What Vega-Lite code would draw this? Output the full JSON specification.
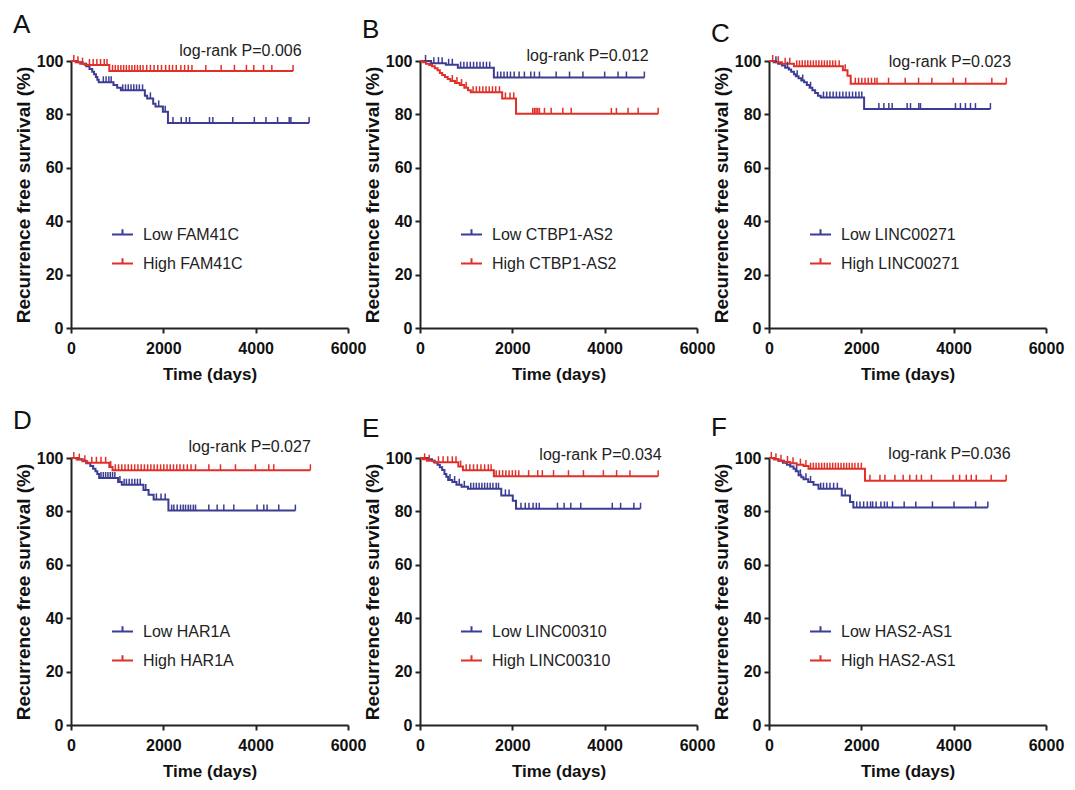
{
"$schema":"https://vega.github.io/schema/vega-lite/v6.json",
"padding":{"left":13,"top":12,"right":5,"bottom":5},
"config":{
"view":{"stroke":null},
"font":"Liberation Sans",
"axis":{"grid":false,"domainColor":"#222","domainWidth":2,"tickColor":"#222","tickWidth":2,"tickSize":5,"labelFont":"Liberation Sans","labelFontSize":16,"labelFontWeight":"bold","labelColor":"#111","titleColor":"#111","titleFontWeight":"bold"},
"axisX":{"labelPadding":7,"titlePadding":10,"titleFont":"Liberation Sans","titleFontSize":17,"labelFlush":false},
"axisY":{"labelPadding":3,"titlePadding":3,"titleFont":"Liberation Sans","titleFontSize":19},
"legend":{"orient":"none","legendX":40,"legendY":162,"title":null,"symbolType":"M-1,0L1,0M0,0L0,-0.5","symbolSize":441,"symbolStrokeWidth":2,"symbolFillColor":"transparent","labelFont":"Liberation Sans","labelFontSize":16,"labelColor":"#222","labelOffset":9,"rowPadding":9},
"title":{"anchor":"start","frame":"group","dx":-58,"offset":5,"fontSize":26,"fontWeight":"normal","font":"Liberation Sans","color":"#111"},
"line":{"interpolate":"step-after","strokeWidth":2},
"point":{"shape":"M0,0L0,-1","size":144,"filled":false,"strokeWidth":1.5,"opacity":1},
"text":{"font":"Liberation Sans","fontSize":16,"color":"#222"}
},
"datasets":{"km":[
{"p":"A","g":"Low FAM41C","t":0,"s":100,"c":0},{"p":"A","g":"Low FAM41C","t":150,"s":99.5,"c":0},{"p":"A","g":"Low FAM41C","t":250,"s":99,"c":0},{"p":"A","g":"Low FAM41C","t":330,"s":98,"c":0},{"p":"A","g":"Low FAM41C","t":400,"s":97,"c":0},{"p":"A","g":"Low FAM41C","t":460,"s":96,"c":0},{"p":"A","g":"Low FAM41C","t":500,"s":95,"c":0},{"p":"A","g":"Low FAM41C","t":540,"s":94,"c":0},{"p":"A","g":"Low FAM41C","t":570,"s":93,"c":0},{"p":"A","g":"Low FAM41C","t":600,"s":92,"c":0},{"p":"A","g":"Low FAM41C","t":920,"s":91,"c":0},{"p":"A","g":"Low FAM41C","t":1000,"s":90,"c":0},{"p":"A","g":"Low FAM41C","t":1080,"s":89,"c":0},{"p":"A","g":"Low FAM41C","t":1600,"s":87,"c":0},{"p":"A","g":"Low FAM41C","t":1650,"s":86,"c":0},{"p":"A","g":"Low FAM41C","t":1780,"s":84,"c":0},{"p":"A","g":"Low FAM41C","t":1830,"s":83,"c":0},{"p":"A","g":"Low FAM41C","t":1990,"s":81,"c":0},{"p":"A","g":"Low FAM41C","t":2100,"s":76.8,"c":0},
{"p":"A","g":"Low FAM41C","t":700,"s":92,"c":1},{"p":"A","g":"Low FAM41C","t":760,"s":92,"c":1},{"p":"A","g":"Low FAM41C","t":820,"s":92,"c":1},{"p":"A","g":"Low FAM41C","t":870,"s":92,"c":1},{"p":"A","g":"Low FAM41C","t":1120,"s":89,"c":1},{"p":"A","g":"Low FAM41C","t":1180,"s":89,"c":1},{"p":"A","g":"Low FAM41C","t":1240,"s":89,"c":1},{"p":"A","g":"Low FAM41C","t":1300,"s":89,"c":1},{"p":"A","g":"Low FAM41C","t":1360,"s":89,"c":1},{"p":"A","g":"Low FAM41C","t":1420,"s":89,"c":1},{"p":"A","g":"Low FAM41C","t":1480,"s":89,"c":1},{"p":"A","g":"Low FAM41C","t":1550,"s":89,"c":1},{"p":"A","g":"Low FAM41C","t":1720,"s":86,"c":1},{"p":"A","g":"Low FAM41C","t":1900,"s":83,"c":1},{"p":"A","g":"Low FAM41C","t":2040,"s":81,"c":1},{"p":"A","g":"Low FAM41C","t":2209,"s":76.8,"c":1},{"p":"A","g":"Low FAM41C","t":2388,"s":76.8,"c":1},{"p":"A","g":"Low FAM41C","t":2496,"s":76.8,"c":1},{"p":"A","g":"Low FAM41C","t":2568,"s":76.8,"c":1},{"p":"A","g":"Low FAM41C","t":3000,"s":76.8,"c":1},{"p":"A","g":"Low FAM41C","t":3072,"s":76.8,"c":1},{"p":"A","g":"Low FAM41C","t":3504,"s":76.8,"c":1},{"p":"A","g":"Low FAM41C","t":3971,"s":76.8,"c":1},{"p":"A","g":"Low FAM41C","t":4223,"s":76.8,"c":1},{"p":"A","g":"Low FAM41C","t":4475,"s":76.8,"c":1},{"p":"A","g":"Low FAM41C","t":4727,"s":76.8,"c":1},{"p":"A","g":"Low FAM41C","t":4763,"s":76.8,"c":1},{"p":"A","g":"Low FAM41C","t":5158,"s":76.8,"c":1},
{"p":"A","g":"High FAM41C","t":0,"s":100,"c":0},{"p":"A","g":"High FAM41C","t":100,"s":99.5,"c":0},{"p":"A","g":"High FAM41C","t":200,"s":99,"c":0},{"p":"A","g":"High FAM41C","t":300,"s":98.5,"c":0},{"p":"A","g":"High FAM41C","t":830,"s":96.3,"c":0},
{"p":"A","g":"High FAM41C","t":60,"s":100,"c":1},{"p":"A","g":"High FAM41C","t":150,"s":99.5,"c":1},{"p":"A","g":"High FAM41C","t":250,"s":99,"c":1},{"p":"A","g":"High FAM41C","t":400,"s":98.5,"c":1},{"p":"A","g":"High FAM41C","t":480,"s":98.5,"c":1},{"p":"A","g":"High FAM41C","t":560,"s":98.5,"c":1},{"p":"A","g":"High FAM41C","t":640,"s":98.5,"c":1},{"p":"A","g":"High FAM41C","t":720,"s":98.5,"c":1},{"p":"A","g":"High FAM41C","t":780,"s":98.5,"c":1},{"p":"A","g":"High FAM41C","t":900,"s":96.3,"c":1},{"p":"A","g":"High FAM41C","t":960,"s":96.3,"c":1},{"p":"A","g":"High FAM41C","t":1020,"s":96.3,"c":1},{"p":"A","g":"High FAM41C","t":1080,"s":96.3,"c":1},{"p":"A","g":"High FAM41C","t":1140,"s":96.3,"c":1},{"p":"A","g":"High FAM41C","t":1200,"s":96.3,"c":1},{"p":"A","g":"High FAM41C","t":1260,"s":96.3,"c":1},{"p":"A","g":"High FAM41C","t":1320,"s":96.3,"c":1},{"p":"A","g":"High FAM41C","t":1380,"s":96.3,"c":1},{"p":"A","g":"High FAM41C","t":1440,"s":96.3,"c":1},{"p":"A","g":"High FAM41C","t":1500,"s":96.3,"c":1},{"p":"A","g":"High FAM41C","t":1560,"s":96.3,"c":1},{"p":"A","g":"High FAM41C","t":1640,"s":96.3,"c":1},{"p":"A","g":"High FAM41C","t":1720,"s":96.3,"c":1},{"p":"A","g":"High FAM41C","t":1800,"s":96.3,"c":1},{"p":"A","g":"High FAM41C","t":1880,"s":96.3,"c":1},{"p":"A","g":"High FAM41C","t":1960,"s":96.3,"c":1},{"p":"A","g":"High FAM41C","t":2050,"s":96.3,"c":1},{"p":"A","g":"High FAM41C","t":2130,"s":96.3,"c":1},{"p":"A","g":"High FAM41C","t":2200,"s":96.3,"c":1},{"p":"A","g":"High FAM41C","t":2280,"s":96.3,"c":1},{"p":"A","g":"High FAM41C","t":2380,"s":96.3,"c":1},{"p":"A","g":"High FAM41C","t":2461,"s":96.3,"c":1},{"p":"A","g":"High FAM41C","t":2540,"s":96.3,"c":1},{"p":"A","g":"High FAM41C","t":2620,"s":96.3,"c":1},{"p":"A","g":"High FAM41C","t":2920,"s":96.3,"c":1},{"p":"A","g":"High FAM41C","t":3252,"s":96.3,"c":1},{"p":"A","g":"High FAM41C","t":3540,"s":96.3,"c":1},{"p":"A","g":"High FAM41C","t":3800,"s":96.3,"c":1},{"p":"A","g":"High FAM41C","t":3960,"s":96.3,"c":1},{"p":"A","g":"High FAM41C","t":4170,"s":96.3,"c":1},{"p":"A","g":"High FAM41C","t":4350,"s":96.3,"c":1},{"p":"A","g":"High FAM41C","t":4810,"s":96.3,"c":1},
{"p":"B","g":"Low CTBP1-AS2","t":0,"s":100,"c":0},{"p":"B","g":"Low CTBP1-AS2","t":240,"s":99.2,"c":0},{"p":"B","g":"Low CTBP1-AS2","t":560,"s":98.6,"c":0},{"p":"B","g":"Low CTBP1-AS2","t":820,"s":97.5,"c":0},{"p":"B","g":"Low CTBP1-AS2","t":1600,"s":93.8,"c":0},
{"p":"B","g":"Low CTBP1-AS2","t":120,"s":100,"c":1},{"p":"B","g":"Low CTBP1-AS2","t":300,"s":99.2,"c":1},{"p":"B","g":"Low CTBP1-AS2","t":400,"s":99.2,"c":1},{"p":"B","g":"Low CTBP1-AS2","t":480,"s":99.2,"c":1},{"p":"B","g":"Low CTBP1-AS2","t":620,"s":98.6,"c":1},{"p":"B","g":"Low CTBP1-AS2","t":700,"s":98.6,"c":1},{"p":"B","g":"Low CTBP1-AS2","t":880,"s":97.5,"c":1},{"p":"B","g":"Low CTBP1-AS2","t":950,"s":97.5,"c":1},{"p":"B","g":"Low CTBP1-AS2","t":1020,"s":97.5,"c":1},{"p":"B","g":"Low CTBP1-AS2","t":1090,"s":97.5,"c":1},{"p":"B","g":"Low CTBP1-AS2","t":1160,"s":97.5,"c":1},{"p":"B","g":"Low CTBP1-AS2","t":1230,"s":97.5,"c":1},{"p":"B","g":"Low CTBP1-AS2","t":1300,"s":97.5,"c":1},{"p":"B","g":"Low CTBP1-AS2","t":1370,"s":97.5,"c":1},{"p":"B","g":"Low CTBP1-AS2","t":1440,"s":97.5,"c":1},{"p":"B","g":"Low CTBP1-AS2","t":1510,"s":97.5,"c":1},{"p":"B","g":"Low CTBP1-AS2","t":1680,"s":93.8,"c":1},{"p":"B","g":"Low CTBP1-AS2","t":1750,"s":93.8,"c":1},{"p":"B","g":"Low CTBP1-AS2","t":1820,"s":93.8,"c":1},{"p":"B","g":"Low CTBP1-AS2","t":1890,"s":93.8,"c":1},{"p":"B","g":"Low CTBP1-AS2","t":1960,"s":93.8,"c":1},{"p":"B","g":"Low CTBP1-AS2","t":2040,"s":93.8,"c":1},{"p":"B","g":"Low CTBP1-AS2","t":2147,"s":93.8,"c":1},{"p":"B","g":"Low CTBP1-AS2","t":2261,"s":93.8,"c":1},{"p":"B","g":"Low CTBP1-AS2","t":2400,"s":93.8,"c":1},{"p":"B","g":"Low CTBP1-AS2","t":2478,"s":93.8,"c":1},{"p":"B","g":"Low CTBP1-AS2","t":2587,"s":93.8,"c":1},{"p":"B","g":"Low CTBP1-AS2","t":2949,"s":93.8,"c":1},{"p":"B","g":"Low CTBP1-AS2","t":3239,"s":93.8,"c":1},{"p":"B","g":"Low CTBP1-AS2","t":3529,"s":93.8,"c":1},{"p":"B","g":"Low CTBP1-AS2","t":4000,"s":93.8,"c":1},{"p":"B","g":"Low CTBP1-AS2","t":4290,"s":93.8,"c":1},{"p":"B","g":"Low CTBP1-AS2","t":4471,"s":93.8,"c":1},{"p":"B","g":"Low CTBP1-AS2","t":4860,"s":93.8,"c":1},
{"p":"B","g":"High CTBP1-AS2","t":0,"s":100,"c":0},{"p":"B","g":"High CTBP1-AS2","t":60,"s":99.5,"c":0},{"p":"B","g":"High CTBP1-AS2","t":130,"s":99,"c":0},{"p":"B","g":"High CTBP1-AS2","t":200,"s":98.5,"c":0},{"p":"B","g":"High CTBP1-AS2","t":260,"s":98,"c":0},{"p":"B","g":"High CTBP1-AS2","t":320,"s":97.3,"c":0},{"p":"B","g":"High CTBP1-AS2","t":380,"s":96.5,"c":0},{"p":"B","g":"High CTBP1-AS2","t":430,"s":95.5,"c":0},{"p":"B","g":"High CTBP1-AS2","t":480,"s":94.8,"c":0},{"p":"B","g":"High CTBP1-AS2","t":540,"s":94,"c":0},{"p":"B","g":"High CTBP1-AS2","t":600,"s":93.3,"c":0},{"p":"B","g":"High CTBP1-AS2","t":660,"s":92.5,"c":0},{"p":"B","g":"High CTBP1-AS2","t":760,"s":91.8,"c":0},{"p":"B","g":"High CTBP1-AS2","t":860,"s":91,"c":0},{"p":"B","g":"High CTBP1-AS2","t":960,"s":90,"c":0},{"p":"B","g":"High CTBP1-AS2","t":1040,"s":89,"c":0},{"p":"B","g":"High CTBP1-AS2","t":1100,"s":88.3,"c":0},{"p":"B","g":"High CTBP1-AS2","t":1780,"s":86,"c":0},{"p":"B","g":"High CTBP1-AS2","t":2080,"s":80.2,"c":0},
{"p":"B","g":"High CTBP1-AS2","t":700,"s":92.5,"c":1},{"p":"B","g":"High CTBP1-AS2","t":800,"s":91.8,"c":1},{"p":"B","g":"High CTBP1-AS2","t":900,"s":91,"c":1},{"p":"B","g":"High CTBP1-AS2","t":1000,"s":90,"c":1},{"p":"B","g":"High CTBP1-AS2","t":1150,"s":88.3,"c":1},{"p":"B","g":"High CTBP1-AS2","t":1220,"s":88.3,"c":1},{"p":"B","g":"High CTBP1-AS2","t":1290,"s":88.3,"c":1},{"p":"B","g":"High CTBP1-AS2","t":1360,"s":88.3,"c":1},{"p":"B","g":"High CTBP1-AS2","t":1430,"s":88.3,"c":1},{"p":"B","g":"High CTBP1-AS2","t":1500,"s":88.3,"c":1},{"p":"B","g":"High CTBP1-AS2","t":1570,"s":88.3,"c":1},{"p":"B","g":"High CTBP1-AS2","t":1640,"s":88.3,"c":1},{"p":"B","g":"High CTBP1-AS2","t":1720,"s":88.3,"c":1},{"p":"B","g":"High CTBP1-AS2","t":1850,"s":86,"c":1},{"p":"B","g":"High CTBP1-AS2","t":1950,"s":86,"c":1},{"p":"B","g":"High CTBP1-AS2","t":2030,"s":86,"c":1},{"p":"B","g":"High CTBP1-AS2","t":2442,"s":80.2,"c":1},{"p":"B","g":"High CTBP1-AS2","t":2480,"s":80.2,"c":1},{"p":"B","g":"High CTBP1-AS2","t":2514,"s":80.2,"c":1},{"p":"B","g":"High CTBP1-AS2","t":2550,"s":80.2,"c":1},{"p":"B","g":"High CTBP1-AS2","t":2587,"s":80.2,"c":1},{"p":"B","g":"High CTBP1-AS2","t":2696,"s":80.2,"c":1},{"p":"B","g":"High CTBP1-AS2","t":2841,"s":80.2,"c":1},{"p":"B","g":"High CTBP1-AS2","t":3094,"s":80.2,"c":1},{"p":"B","g":"High CTBP1-AS2","t":3275,"s":80.2,"c":1},{"p":"B","g":"High CTBP1-AS2","t":4145,"s":80.2,"c":1},{"p":"B","g":"High CTBP1-AS2","t":4254,"s":80.2,"c":1},{"p":"B","g":"High CTBP1-AS2","t":4507,"s":80.2,"c":1},{"p":"B","g":"High CTBP1-AS2","t":4725,"s":80.2,"c":1},{"p":"B","g":"High CTBP1-AS2","t":5159,"s":80.2,"c":1},
{"p":"C","g":"Low LINC00271","t":0,"s":100,"c":0},{"p":"C","g":"Low LINC00271","t":100,"s":99.5,"c":0},{"p":"C","g":"Low LINC00271","t":200,"s":99,"c":0},{"p":"C","g":"Low LINC00271","t":280,"s":98.3,"c":0},{"p":"C","g":"Low LINC00271","t":350,"s":97.5,"c":0},{"p":"C","g":"Low LINC00271","t":430,"s":96.8,"c":0},{"p":"C","g":"Low LINC00271","t":480,"s":96,"c":0},{"p":"C","g":"Low LINC00271","t":540,"s":95,"c":0},{"p":"C","g":"Low LINC00271","t":580,"s":94.3,"c":0},{"p":"C","g":"Low LINC00271","t":640,"s":93.5,"c":0},{"p":"C","g":"Low LINC00271","t":700,"s":92.7,"c":0},{"p":"C","g":"Low LINC00271","t":760,"s":92,"c":0},{"p":"C","g":"Low LINC00271","t":820,"s":91,"c":0},{"p":"C","g":"Low LINC00271","t":880,"s":90,"c":0},{"p":"C","g":"Low LINC00271","t":940,"s":89,"c":0},{"p":"C","g":"Low LINC00271","t":1000,"s":88,"c":0},{"p":"C","g":"Low LINC00271","t":1060,"s":87,"c":0},{"p":"C","g":"Low LINC00271","t":1120,"s":86.3,"c":0},{"p":"C","g":"Low LINC00271","t":2060,"s":82,"c":0},
{"p":"C","g":"Low LINC00271","t":150,"s":99.5,"c":1},{"p":"C","g":"Low LINC00271","t":400,"s":97.5,"c":1},{"p":"C","g":"Low LINC00271","t":610,"s":94.3,"c":1},{"p":"C","g":"Low LINC00271","t":730,"s":92.7,"c":1},{"p":"C","g":"Low LINC00271","t":900,"s":90,"c":1},{"p":"C","g":"Low LINC00271","t":1180,"s":86.3,"c":1},{"p":"C","g":"Low LINC00271","t":1250,"s":86.3,"c":1},{"p":"C","g":"Low LINC00271","t":1320,"s":86.3,"c":1},{"p":"C","g":"Low LINC00271","t":1390,"s":86.3,"c":1},{"p":"C","g":"Low LINC00271","t":1460,"s":86.3,"c":1},{"p":"C","g":"Low LINC00271","t":1530,"s":86.3,"c":1},{"p":"C","g":"Low LINC00271","t":1600,"s":86.3,"c":1},{"p":"C","g":"Low LINC00271","t":1670,"s":86.3,"c":1},{"p":"C","g":"Low LINC00271","t":1740,"s":86.3,"c":1},{"p":"C","g":"Low LINC00271","t":1810,"s":86.3,"c":1},{"p":"C","g":"Low LINC00271","t":1880,"s":86.3,"c":1},{"p":"C","g":"Low LINC00271","t":1950,"s":86.3,"c":1},{"p":"C","g":"Low LINC00271","t":2010,"s":86.3,"c":1},{"p":"C","g":"Low LINC00271","t":2380,"s":82,"c":1},{"p":"C","g":"Low LINC00271","t":2488,"s":82,"c":1},{"p":"C","g":"Low LINC00271","t":2596,"s":82,"c":1},{"p":"C","g":"Low LINC00271","t":2668,"s":82,"c":1},{"p":"C","g":"Low LINC00271","t":2993,"s":82,"c":1},{"p":"C","g":"Low LINC00271","t":3065,"s":82,"c":1},{"p":"C","g":"Low LINC00271","t":3245,"s":82,"c":1},{"p":"C","g":"Low LINC00271","t":3281,"s":82,"c":1},{"p":"C","g":"Low LINC00271","t":4039,"s":82,"c":1},{"p":"C","g":"Low LINC00271","t":4147,"s":82,"c":1},{"p":"C","g":"Low LINC00271","t":4255,"s":82,"c":1},{"p":"C","g":"Low LINC00271","t":4364,"s":82,"c":1},{"p":"C","g":"Low LINC00271","t":4472,"s":82,"c":1},{"p":"C","g":"Low LINC00271","t":4796,"s":82,"c":1},
{"p":"C","g":"High LINC00271","t":0,"s":100,"c":0},{"p":"C","g":"High LINC00271","t":150,"s":99.5,"c":0},{"p":"C","g":"High LINC00271","t":280,"s":99,"c":0},{"p":"C","g":"High LINC00271","t":540,"s":98,"c":0},{"p":"C","g":"High LINC00271","t":1600,"s":96.5,"c":0},{"p":"C","g":"High LINC00271","t":1700,"s":94.5,"c":0},{"p":"C","g":"High LINC00271","t":1770,"s":91.5,"c":0},
{"p":"C","g":"High LINC00271","t":80,"s":100,"c":1},{"p":"C","g":"High LINC00271","t":200,"s":99.5,"c":1},{"p":"C","g":"High LINC00271","t":350,"s":99,"c":1},{"p":"C","g":"High LINC00271","t":450,"s":99,"c":1},{"p":"C","g":"High LINC00271","t":600,"s":98,"c":1},{"p":"C","g":"High LINC00271","t":660,"s":98,"c":1},{"p":"C","g":"High LINC00271","t":720,"s":98,"c":1},{"p":"C","g":"High LINC00271","t":780,"s":98,"c":1},{"p":"C","g":"High LINC00271","t":840,"s":98,"c":1},{"p":"C","g":"High LINC00271","t":900,"s":98,"c":1},{"p":"C","g":"High LINC00271","t":960,"s":98,"c":1},{"p":"C","g":"High LINC00271","t":1020,"s":98,"c":1},{"p":"C","g":"High LINC00271","t":1080,"s":98,"c":1},{"p":"C","g":"High LINC00271","t":1140,"s":98,"c":1},{"p":"C","g":"High LINC00271","t":1200,"s":98,"c":1},{"p":"C","g":"High LINC00271","t":1260,"s":98,"c":1},{"p":"C","g":"High LINC00271","t":1320,"s":98,"c":1},{"p":"C","g":"High LINC00271","t":1380,"s":98,"c":1},{"p":"C","g":"High LINC00271","t":1440,"s":98,"c":1},{"p":"C","g":"High LINC00271","t":1520,"s":98,"c":1},{"p":"C","g":"High LINC00271","t":1650,"s":96.5,"c":1},{"p":"C","g":"High LINC00271","t":1870,"s":91.5,"c":1},{"p":"C","g":"High LINC00271","t":1940,"s":91.5,"c":1},{"p":"C","g":"High LINC00271","t":2010,"s":91.5,"c":1},{"p":"C","g":"High LINC00271","t":2080,"s":91.5,"c":1},{"p":"C","g":"High LINC00271","t":2150,"s":91.5,"c":1},{"p":"C","g":"High LINC00271","t":2220,"s":91.5,"c":1},{"p":"C","g":"High LINC00271","t":2290,"s":91.5,"c":1},{"p":"C","g":"High LINC00271","t":2340,"s":91.5,"c":1},{"p":"C","g":"High LINC00271","t":2590,"s":91.5,"c":1},{"p":"C","g":"High LINC00271","t":2950,"s":91.5,"c":1},{"p":"C","g":"High LINC00271","t":3240,"s":91.5,"c":1},{"p":"C","g":"High LINC00271","t":3528,"s":91.5,"c":1},{"p":"C","g":"High LINC00271","t":3990,"s":91.5,"c":1},{"p":"C","g":"High LINC00271","t":4260,"s":91.5,"c":1},{"p":"C","g":"High LINC00271","t":4827,"s":91.5,"c":1},{"p":"C","g":"High LINC00271","t":5140,"s":91.5,"c":1},
{"p":"D","g":"Low HAR1A","t":0,"s":100,"c":0},{"p":"D","g":"Low HAR1A","t":150,"s":99.5,"c":0},{"p":"D","g":"Low HAR1A","t":250,"s":99,"c":0},{"p":"D","g":"Low HAR1A","t":330,"s":98,"c":0},{"p":"D","g":"Low HAR1A","t":420,"s":97,"c":0},{"p":"D","g":"Low HAR1A","t":480,"s":96,"c":0},{"p":"D","g":"Low HAR1A","t":530,"s":95,"c":0},{"p":"D","g":"Low HAR1A","t":570,"s":94,"c":0},{"p":"D","g":"Low HAR1A","t":610,"s":92.5,"c":0},{"p":"D","g":"Low HAR1A","t":1020,"s":91,"c":0},{"p":"D","g":"Low HAR1A","t":1100,"s":90,"c":0},{"p":"D","g":"Low HAR1A","t":1570,"s":88,"c":0},{"p":"D","g":"Low HAR1A","t":1680,"s":86.2,"c":0},{"p":"D","g":"Low HAR1A","t":1790,"s":84.5,"c":0},{"p":"D","g":"Low HAR1A","t":2110,"s":80.3,"c":0},
{"p":"D","g":"Low HAR1A","t":650,"s":92.5,"c":1},{"p":"D","g":"Low HAR1A","t":700,"s":92.5,"c":1},{"p":"D","g":"Low HAR1A","t":750,"s":92.5,"c":1},{"p":"D","g":"Low HAR1A","t":800,"s":92.5,"c":1},{"p":"D","g":"Low HAR1A","t":850,"s":92.5,"c":1},{"p":"D","g":"Low HAR1A","t":900,"s":92.5,"c":1},{"p":"D","g":"Low HAR1A","t":950,"s":92.5,"c":1},{"p":"D","g":"Low HAR1A","t":1060,"s":91,"c":1},{"p":"D","g":"Low HAR1A","t":1150,"s":90,"c":1},{"p":"D","g":"Low HAR1A","t":1200,"s":90,"c":1},{"p":"D","g":"Low HAR1A","t":1260,"s":90,"c":1},{"p":"D","g":"Low HAR1A","t":1320,"s":90,"c":1},{"p":"D","g":"Low HAR1A","t":1380,"s":90,"c":1},{"p":"D","g":"Low HAR1A","t":1440,"s":90,"c":1},{"p":"D","g":"Low HAR1A","t":1500,"s":90,"c":1},{"p":"D","g":"Low HAR1A","t":1620,"s":88,"c":1},{"p":"D","g":"Low HAR1A","t":1850,"s":84.5,"c":1},{"p":"D","g":"Low HAR1A","t":1950,"s":84.5,"c":1},{"p":"D","g":"Low HAR1A","t":2040,"s":84.5,"c":1},{"p":"D","g":"Low HAR1A","t":2180,"s":80.3,"c":1},{"p":"D","g":"Low HAR1A","t":2228,"s":80.3,"c":1},{"p":"D","g":"Low HAR1A","t":2300,"s":80.3,"c":1},{"p":"D","g":"Low HAR1A","t":2372,"s":80.3,"c":1},{"p":"D","g":"Low HAR1A","t":2430,"s":80.3,"c":1},{"p":"D","g":"Low HAR1A","t":2481,"s":80.3,"c":1},{"p":"D","g":"Low HAR1A","t":2540,"s":80.3,"c":1},{"p":"D","g":"Low HAR1A","t":2589,"s":80.3,"c":1},{"p":"D","g":"Low HAR1A","t":2650,"s":80.3,"c":1},{"p":"D","g":"Low HAR1A","t":2697,"s":80.3,"c":1},{"p":"D","g":"Low HAR1A","t":2985,"s":80.3,"c":1},{"p":"D","g":"Low HAR1A","t":3166,"s":80.3,"c":1},{"p":"D","g":"Low HAR1A","t":3310,"s":80.3,"c":1},{"p":"D","g":"Low HAR1A","t":3526,"s":80.3,"c":1},{"p":"D","g":"Low HAR1A","t":4031,"s":80.3,"c":1},{"p":"D","g":"Low HAR1A","t":4176,"s":80.3,"c":1},{"p":"D","g":"Low HAR1A","t":4248,"s":80.3,"c":1},{"p":"D","g":"Low HAR1A","t":4500,"s":80.3,"c":1},{"p":"D","g":"Low HAR1A","t":4860,"s":80.3,"c":1},
{"p":"D","g":"High HAR1A","t":0,"s":100,"c":0},{"p":"D","g":"High HAR1A","t":120,"s":99.4,"c":0},{"p":"D","g":"High HAR1A","t":250,"s":98.8,"c":0},{"p":"D","g":"High HAR1A","t":350,"s":98.2,"c":0},{"p":"D","g":"High HAR1A","t":830,"s":96.6,"c":0},{"p":"D","g":"High HAR1A","t":900,"s":95.4,"c":0},
{"p":"D","g":"High HAR1A","t":60,"s":100,"c":1},{"p":"D","g":"High HAR1A","t":180,"s":99.4,"c":1},{"p":"D","g":"High HAR1A","t":300,"s":98.8,"c":1},{"p":"D","g":"High HAR1A","t":450,"s":98.2,"c":1},{"p":"D","g":"High HAR1A","t":550,"s":98.2,"c":1},{"p":"D","g":"High HAR1A","t":650,"s":98.2,"c":1},{"p":"D","g":"High HAR1A","t":750,"s":98.2,"c":1},{"p":"D","g":"High HAR1A","t":860,"s":96.6,"c":1},{"p":"D","g":"High HAR1A","t":960,"s":95.4,"c":1},{"p":"D","g":"High HAR1A","t":1030,"s":95.4,"c":1},{"p":"D","g":"High HAR1A","t":1100,"s":95.4,"c":1},{"p":"D","g":"High HAR1A","t":1170,"s":95.4,"c":1},{"p":"D","g":"High HAR1A","t":1240,"s":95.4,"c":1},{"p":"D","g":"High HAR1A","t":1310,"s":95.4,"c":1},{"p":"D","g":"High HAR1A","t":1380,"s":95.4,"c":1},{"p":"D","g":"High HAR1A","t":1450,"s":95.4,"c":1},{"p":"D","g":"High HAR1A","t":1520,"s":95.4,"c":1},{"p":"D","g":"High HAR1A","t":1590,"s":95.4,"c":1},{"p":"D","g":"High HAR1A","t":1660,"s":95.4,"c":1},{"p":"D","g":"High HAR1A","t":1730,"s":95.4,"c":1},{"p":"D","g":"High HAR1A","t":1800,"s":95.4,"c":1},{"p":"D","g":"High HAR1A","t":1870,"s":95.4,"c":1},{"p":"D","g":"High HAR1A","t":1940,"s":95.4,"c":1},{"p":"D","g":"High HAR1A","t":2010,"s":95.4,"c":1},{"p":"D","g":"High HAR1A","t":2080,"s":95.4,"c":1},{"p":"D","g":"High HAR1A","t":2150,"s":95.4,"c":1},{"p":"D","g":"High HAR1A","t":2220,"s":95.4,"c":1},{"p":"D","g":"High HAR1A","t":2290,"s":95.4,"c":1},{"p":"D","g":"High HAR1A","t":2360,"s":95.4,"c":1},{"p":"D","g":"High HAR1A","t":2440,"s":95.4,"c":1},{"p":"D","g":"High HAR1A","t":2520,"s":95.4,"c":1},{"p":"D","g":"High HAR1A","t":2600,"s":95.4,"c":1},{"p":"D","g":"High HAR1A","t":2697,"s":95.4,"c":1},{"p":"D","g":"High HAR1A","t":2986,"s":95.4,"c":1},{"p":"D","g":"High HAR1A","t":3238,"s":95.4,"c":1},{"p":"D","g":"High HAR1A","t":3562,"s":95.4,"c":1},{"p":"D","g":"High HAR1A","t":3995,"s":95.4,"c":1},{"p":"D","g":"High HAR1A","t":4284,"s":95.4,"c":1},{"p":"D","g":"High HAR1A","t":4392,"s":95.4,"c":1},{"p":"D","g":"High HAR1A","t":5185,"s":95.4,"c":1},
{"p":"E","g":"Low LINC00310","t":0,"s":100,"c":0},{"p":"E","g":"Low LINC00310","t":180,"s":99.5,"c":0},{"p":"E","g":"Low LINC00310","t":260,"s":99,"c":0},{"p":"E","g":"Low LINC00310","t":320,"s":98.3,"c":0},{"p":"E","g":"Low LINC00310","t":380,"s":97.5,"c":0},{"p":"E","g":"Low LINC00310","t":430,"s":96.5,"c":0},{"p":"E","g":"Low LINC00310","t":480,"s":95.5,"c":0},{"p":"E","g":"Low LINC00310","t":530,"s":94,"c":0},{"p":"E","g":"Low LINC00310","t":570,"s":93,"c":0},{"p":"E","g":"Low LINC00310","t":610,"s":91.8,"c":0},{"p":"E","g":"Low LINC00310","t":700,"s":91,"c":0},{"p":"E","g":"Low LINC00310","t":790,"s":90,"c":0},{"p":"E","g":"Low LINC00310","t":900,"s":89.2,"c":0},{"p":"E","g":"Low LINC00310","t":1040,"s":88.5,"c":0},{"p":"E","g":"Low LINC00310","t":1760,"s":86,"c":0},{"p":"E","g":"Low LINC00310","t":2010,"s":84,"c":0},{"p":"E","g":"Low LINC00310","t":2080,"s":81,"c":0},
{"p":"E","g":"Low LINC00310","t":650,"s":91.8,"c":1},{"p":"E","g":"Low LINC00310","t":750,"s":91,"c":1},{"p":"E","g":"Low LINC00310","t":850,"s":90,"c":1},{"p":"E","g":"Low LINC00310","t":960,"s":89.2,"c":1},{"p":"E","g":"Low LINC00310","t":1100,"s":88.5,"c":1},{"p":"E","g":"Low LINC00310","t":1160,"s":88.5,"c":1},{"p":"E","g":"Low LINC00310","t":1220,"s":88.5,"c":1},{"p":"E","g":"Low LINC00310","t":1280,"s":88.5,"c":1},{"p":"E","g":"Low LINC00310","t":1340,"s":88.5,"c":1},{"p":"E","g":"Low LINC00310","t":1400,"s":88.5,"c":1},{"p":"E","g":"Low LINC00310","t":1460,"s":88.5,"c":1},{"p":"E","g":"Low LINC00310","t":1520,"s":88.5,"c":1},{"p":"E","g":"Low LINC00310","t":1580,"s":88.5,"c":1},{"p":"E","g":"Low LINC00310","t":1650,"s":88.5,"c":1},{"p":"E","g":"Low LINC00310","t":1700,"s":88.5,"c":1},{"p":"E","g":"Low LINC00310","t":1850,"s":86,"c":1},{"p":"E","g":"Low LINC00310","t":1930,"s":86,"c":1},{"p":"E","g":"Low LINC00310","t":2187,"s":81,"c":1},{"p":"E","g":"Low LINC00310","t":2280,"s":81,"c":1},{"p":"E","g":"Low LINC00310","t":2360,"s":81,"c":1},{"p":"E","g":"Low LINC00310","t":2450,"s":81,"c":1},{"p":"E","g":"Low LINC00310","t":2520,"s":81,"c":1},{"p":"E","g":"Low LINC00310","t":2583,"s":81,"c":1},{"p":"E","g":"Low LINC00310","t":2978,"s":81,"c":1},{"p":"E","g":"Low LINC00310","t":3122,"s":81,"c":1},{"p":"E","g":"Low LINC00310","t":3266,"s":81,"c":1},{"p":"E","g":"Low LINC00310","t":3482,"s":81,"c":1},{"p":"E","g":"Low LINC00310","t":4165,"s":81,"c":1},{"p":"E","g":"Low LINC00310","t":4345,"s":81,"c":1},{"p":"E","g":"Low LINC00310","t":4633,"s":81,"c":1},{"p":"E","g":"Low LINC00310","t":4777,"s":81,"c":1},
{"p":"E","g":"High LINC00310","t":0,"s":100,"c":0},{"p":"E","g":"High LINC00310","t":60,"s":99.5,"c":0},{"p":"E","g":"High LINC00310","t":150,"s":99,"c":0},{"p":"E","g":"High LINC00310","t":300,"s":98.4,"c":0},{"p":"E","g":"High LINC00310","t":830,"s":96.8,"c":0},{"p":"E","g":"High LINC00310","t":930,"s":95.4,"c":0},{"p":"E","g":"High LINC00310","t":1600,"s":93.2,"c":0},
{"p":"E","g":"High LINC00310","t":100,"s":99.5,"c":1},{"p":"E","g":"High LINC00310","t":200,"s":99,"c":1},{"p":"E","g":"High LINC00310","t":400,"s":98.4,"c":1},{"p":"E","g":"High LINC00310","t":500,"s":98.4,"c":1},{"p":"E","g":"High LINC00310","t":600,"s":98.4,"c":1},{"p":"E","g":"High LINC00310","t":700,"s":98.4,"c":1},{"p":"E","g":"High LINC00310","t":780,"s":98.4,"c":1},{"p":"E","g":"High LINC00310","t":880,"s":96.8,"c":1},{"p":"E","g":"High LINC00310","t":1000,"s":95.4,"c":1},{"p":"E","g":"High LINC00310","t":1080,"s":95.4,"c":1},{"p":"E","g":"High LINC00310","t":1160,"s":95.4,"c":1},{"p":"E","g":"High LINC00310","t":1240,"s":95.4,"c":1},{"p":"E","g":"High LINC00310","t":1320,"s":95.4,"c":1},{"p":"E","g":"High LINC00310","t":1400,"s":95.4,"c":1},{"p":"E","g":"High LINC00310","t":1480,"s":95.4,"c":1},{"p":"E","g":"High LINC00310","t":1540,"s":95.4,"c":1},{"p":"E","g":"High LINC00310","t":1650,"s":93.2,"c":1},{"p":"E","g":"High LINC00310","t":1720,"s":93.2,"c":1},{"p":"E","g":"High LINC00310","t":1790,"s":93.2,"c":1},{"p":"E","g":"High LINC00310","t":1860,"s":93.2,"c":1},{"p":"E","g":"High LINC00310","t":1930,"s":93.2,"c":1},{"p":"E","g":"High LINC00310","t":2000,"s":93.2,"c":1},{"p":"E","g":"High LINC00310","t":2070,"s":93.2,"c":1},{"p":"E","g":"High LINC00310","t":2140,"s":93.2,"c":1},{"p":"E","g":"High LINC00310","t":2353,"s":93.2,"c":1},{"p":"E","g":"High LINC00310","t":2550,"s":93.2,"c":1},{"p":"E","g":"High LINC00310","t":2650,"s":93.2,"c":1},{"p":"E","g":"High LINC00310","t":2892,"s":93.2,"c":1},{"p":"E","g":"High LINC00310","t":3216,"s":93.2,"c":1},{"p":"E","g":"High LINC00310","t":3540,"s":93.2,"c":1},{"p":"E","g":"High LINC00310","t":3972,"s":93.2,"c":1},{"p":"E","g":"High LINC00310","t":4259,"s":93.2,"c":1},{"p":"E","g":"High LINC00310","t":4547,"s":93.2,"c":1},{"p":"E","g":"High LINC00310","t":5159,"s":93.2,"c":1},
{"p":"F","g":"Low HAS2-AS1","t":0,"s":100,"c":0},{"p":"F","g":"Low HAS2-AS1","t":120,"s":99.5,"c":0},{"p":"F","g":"Low HAS2-AS1","t":209,"s":99,"c":0},{"p":"F","g":"Low HAS2-AS1","t":300,"s":98.2,"c":0},{"p":"F","g":"Low HAS2-AS1","t":388,"s":97.5,"c":0},{"p":"F","g":"Low HAS2-AS1","t":460,"s":96.8,"c":0},{"p":"F","g":"Low HAS2-AS1","t":532,"s":96,"c":0},{"p":"F","g":"Low HAS2-AS1","t":580,"s":95,"c":0},{"p":"F","g":"Low HAS2-AS1","t":640,"s":93.5,"c":0},{"p":"F","g":"Low HAS2-AS1","t":700,"s":92.8,"c":0},{"p":"F","g":"Low HAS2-AS1","t":748,"s":92,"c":0},{"p":"F","g":"Low HAS2-AS1","t":850,"s":91,"c":0},{"p":"F","g":"Low HAS2-AS1","t":964,"s":90,"c":0},{"p":"F","g":"Low HAS2-AS1","t":1072,"s":88.5,"c":0},{"p":"F","g":"Low HAS2-AS1","t":1576,"s":86,"c":0},{"p":"F","g":"Low HAS2-AS1","t":1755,"s":83.5,"c":0},{"p":"F","g":"Low HAS2-AS1","t":1827,"s":81.5,"c":0},
{"p":"F","g":"Low HAS2-AS1","t":600,"s":95,"c":1},{"p":"F","g":"Low HAS2-AS1","t":680,"s":93.5,"c":1},{"p":"F","g":"Low HAS2-AS1","t":800,"s":92,"c":1},{"p":"F","g":"Low HAS2-AS1","t":900,"s":91,"c":1},{"p":"F","g":"Low HAS2-AS1","t":1120,"s":88.5,"c":1},{"p":"F","g":"Low HAS2-AS1","t":1180,"s":88.5,"c":1},{"p":"F","g":"Low HAS2-AS1","t":1250,"s":88.5,"c":1},{"p":"F","g":"Low HAS2-AS1","t":1320,"s":88.5,"c":1},{"p":"F","g":"Low HAS2-AS1","t":1400,"s":88.5,"c":1},{"p":"F","g":"Low HAS2-AS1","t":1480,"s":88.5,"c":1},{"p":"F","g":"Low HAS2-AS1","t":1650,"s":86,"c":1},{"p":"F","g":"Low HAS2-AS1","t":1900,"s":81.5,"c":1},{"p":"F","g":"Low HAS2-AS1","t":1971,"s":81.5,"c":1},{"p":"F","g":"Low HAS2-AS1","t":2050,"s":81.5,"c":1},{"p":"F","g":"Low HAS2-AS1","t":2130,"s":81.5,"c":1},{"p":"F","g":"Low HAS2-AS1","t":2200,"s":81.5,"c":1},{"p":"F","g":"Low HAS2-AS1","t":2245,"s":81.5,"c":1},{"p":"F","g":"Low HAS2-AS1","t":2320,"s":81.5,"c":1},{"p":"F","g":"Low HAS2-AS1","t":2424,"s":81.5,"c":1},{"p":"F","g":"Low HAS2-AS1","t":2500,"s":81.5,"c":1},{"p":"F","g":"Low HAS2-AS1","t":2560,"s":81.5,"c":1},{"p":"F","g":"Low HAS2-AS1","t":2676,"s":81.5,"c":1},{"p":"F","g":"Low HAS2-AS1","t":2928,"s":81.5,"c":1},{"p":"F","g":"Low HAS2-AS1","t":3180,"s":81.5,"c":1},{"p":"F","g":"Low HAS2-AS1","t":3540,"s":81.5,"c":1},{"p":"F","g":"Low HAS2-AS1","t":4008,"s":81.5,"c":1},{"p":"F","g":"Low HAS2-AS1","t":4475,"s":81.5,"c":1},{"p":"F","g":"Low HAS2-AS1","t":4741,"s":81.5,"c":1},
{"p":"F","g":"High HAS2-AS1","t":0,"s":100,"c":0},{"p":"F","g":"High HAS2-AS1","t":100,"s":99.5,"c":0},{"p":"F","g":"High HAS2-AS1","t":200,"s":99,"c":0},{"p":"F","g":"High HAS2-AS1","t":330,"s":98.5,"c":0},{"p":"F","g":"High HAS2-AS1","t":460,"s":98,"c":0},{"p":"F","g":"High HAS2-AS1","t":600,"s":97.5,"c":0},{"p":"F","g":"High HAS2-AS1","t":748,"s":97,"c":0},{"p":"F","g":"High HAS2-AS1","t":856,"s":96,"c":0},{"p":"F","g":"High HAS2-AS1","t":2079,"s":91.5,"c":0},
{"p":"F","g":"High HAS2-AS1","t":50,"s":100,"c":1},{"p":"F","g":"High HAS2-AS1","t":150,"s":99.5,"c":1},{"p":"F","g":"High HAS2-AS1","t":260,"s":99,"c":1},{"p":"F","g":"High HAS2-AS1","t":400,"s":98.5,"c":1},{"p":"F","g":"High HAS2-AS1","t":520,"s":98,"c":1},{"p":"F","g":"High HAS2-AS1","t":680,"s":97.5,"c":1},{"p":"F","g":"High HAS2-AS1","t":800,"s":97,"c":1},{"p":"F","g":"High HAS2-AS1","t":900,"s":96,"c":1},{"p":"F","g":"High HAS2-AS1","t":960,"s":96,"c":1},{"p":"F","g":"High HAS2-AS1","t":1020,"s":96,"c":1},{"p":"F","g":"High HAS2-AS1","t":1080,"s":96,"c":1},{"p":"F","g":"High HAS2-AS1","t":1140,"s":96,"c":1},{"p":"F","g":"High HAS2-AS1","t":1200,"s":96,"c":1},{"p":"F","g":"High HAS2-AS1","t":1260,"s":96,"c":1},{"p":"F","g":"High HAS2-AS1","t":1320,"s":96,"c":1},{"p":"F","g":"High HAS2-AS1","t":1380,"s":96,"c":1},{"p":"F","g":"High HAS2-AS1","t":1440,"s":96,"c":1},{"p":"F","g":"High HAS2-AS1","t":1500,"s":96,"c":1},{"p":"F","g":"High HAS2-AS1","t":1560,"s":96,"c":1},{"p":"F","g":"High HAS2-AS1","t":1620,"s":96,"c":1},{"p":"F","g":"High HAS2-AS1","t":1680,"s":96,"c":1},{"p":"F","g":"High HAS2-AS1","t":1740,"s":96,"c":1},{"p":"F","g":"High HAS2-AS1","t":1800,"s":96,"c":1},{"p":"F","g":"High HAS2-AS1","t":1860,"s":96,"c":1},{"p":"F","g":"High HAS2-AS1","t":1930,"s":96,"c":1},{"p":"F","g":"High HAS2-AS1","t":2000,"s":96,"c":1},{"p":"F","g":"High HAS2-AS1","t":2187,"s":91.5,"c":1},{"p":"F","g":"High HAS2-AS1","t":2403,"s":91.5,"c":1},{"p":"F","g":"High HAS2-AS1","t":2511,"s":91.5,"c":1},{"p":"F","g":"High HAS2-AS1","t":2727,"s":91.5,"c":1},{"p":"F","g":"High HAS2-AS1","t":2906,"s":91.5,"c":1},{"p":"F","g":"High HAS2-AS1","t":3050,"s":91.5,"c":1},{"p":"F","g":"High HAS2-AS1","t":3194,"s":91.5,"c":1},{"p":"F","g":"High HAS2-AS1","t":3302,"s":91.5,"c":1},{"p":"F","g":"High HAS2-AS1","t":3518,"s":91.5,"c":1},{"p":"F","g":"High HAS2-AS1","t":3986,"s":91.5,"c":1},{"p":"F","g":"High HAS2-AS1","t":4129,"s":91.5,"c":1},{"p":"F","g":"High HAS2-AS1","t":4273,"s":91.5,"c":1},{"p":"F","g":"High HAS2-AS1","t":4381,"s":91.5,"c":1},{"p":"F","g":"High HAS2-AS1","t":4489,"s":91.5,"c":1},{"p":"F","g":"High HAS2-AS1","t":4813,"s":91.5,"c":1},{"p":"F","g":"High HAS2-AS1","t":5137,"s":91.5,"c":1}
]},
"data":{"name":"km"},
"columns":3,
"spacing":{"row":130,"column":72},
"bounds":"flush",
"resolve":{"scale":{"color":"independent","x":"independent","y":"independent"},"legend":{"color":"independent"}},
"concat":[
{"width":277,"height":267,"title":{"text":"A"},"transform":[{"filter":"datum.p === 'A'"}],
"layer":[
{"mark":{"type":"line"},"encoding":{"x":{"field":"t","type":"quantitative","scale":{"domain":[0,6000],"nice":false},"axis":{"values":[0,2000,4000,6000],"format":"d"},"title":"Time (days)"},"y":{"field":"s","type":"quantitative","scale":{"domain":[0,100],"nice":false},"axis":{"values":[0,20,40,60,80,100]},"title":"Recurrence free survival (%)"},"color":{"field":"g","type":"nominal","scale":{"domain":["Low FAM41C","High FAM41C"],"range":["#3c3c94","#e03028"]}}}},
{"transform":[{"filter":"datum.c === 1"}],"mark":{"type":"point"},"encoding":{"x":{"field":"t","type":"quantitative"},"y":{"field":"s","type":"quantitative"},"color":{"field":"g","type":"nominal"}}},
{"data":{"values":[{"label":"log-rank P=0.006"}]},"mark":{"type":"text"},"encoding":{"x":{"datum":3670},"y":{"datum":103.7},"text":{"field":"label"}}}
]},
{"width":277,"height":267,"title":{"text":"B"},"transform":[{"filter":"datum.p === 'B'"}],
"layer":[
{"mark":{"type":"line"},"encoding":{"x":{"field":"t","type":"quantitative","scale":{"domain":[0,6000],"nice":false},"axis":{"values":[0,2000,4000,6000],"format":"d"},"title":"Time (days)"},"y":{"field":"s","type":"quantitative","scale":{"domain":[0,100],"nice":false},"axis":{"values":[0,20,40,60,80,100]},"title":"Recurrence free survival (%)"},"color":{"field":"g","type":"nominal","scale":{"domain":["Low CTBP1-AS2","High CTBP1-AS2"],"range":["#3c3c94","#e03028"]}}}},
{"transform":[{"filter":"datum.c === 1"}],"mark":{"type":"point"},"encoding":{"x":{"field":"t","type":"quantitative"},"y":{"field":"s","type":"quantitative"},"color":{"field":"g","type":"nominal"}}},
{"data":{"values":[{"label":"log-rank P=0.012"}]},"mark":{"type":"text"},"encoding":{"x":{"datum":3630},"y":{"datum":101.9},"text":{"field":"label"}}}
]},
{"width":277,"height":267,"title":{"text":"C"},"transform":[{"filter":"datum.p === 'C'"}],
"layer":[
{"mark":{"type":"line"},"encoding":{"x":{"field":"t","type":"quantitative","scale":{"domain":[0,6000],"nice":false},"axis":{"values":[0,2000,4000,6000],"format":"d"},"title":"Time (days)"},"y":{"field":"s","type":"quantitative","scale":{"domain":[0,100],"nice":false},"axis":{"values":[0,20,40,60,80,100]},"title":"Recurrence free survival (%)"},"color":{"field":"g","type":"nominal","scale":{"domain":["Low LINC00271","High LINC00271"],"range":["#3c3c94","#e03028"]}}}},
{"transform":[{"filter":"datum.c === 1"}],"mark":{"type":"point"},"encoding":{"x":{"field":"t","type":"quantitative"},"y":{"field":"s","type":"quantitative"},"color":{"field":"g","type":"nominal"}}},
{"data":{"values":[{"label":"log-rank P=0.023"}]},"mark":{"type":"text"},"encoding":{"x":{"datum":3920},"y":{"datum":99.8},"text":{"field":"label"}}}
]},
{"width":277,"height":267,"title":{"text":"D"},"transform":[{"filter":"datum.p === 'D'"}],
"layer":[
{"mark":{"type":"line"},"encoding":{"x":{"field":"t","type":"quantitative","scale":{"domain":[0,6000],"nice":false},"axis":{"values":[0,2000,4000,6000],"format":"d"},"title":"Time (days)"},"y":{"field":"s","type":"quantitative","scale":{"domain":[0,100],"nice":false},"axis":{"values":[0,20,40,60,80,100]},"title":"Recurrence free survival (%)"},"color":{"field":"g","type":"nominal","scale":{"domain":["Low HAR1A","High HAR1A"],"range":["#3c3c94","#e03028"]}}}},
{"transform":[{"filter":"datum.c === 1"}],"mark":{"type":"point"},"encoding":{"x":{"field":"t","type":"quantitative"},"y":{"field":"s","type":"quantitative"},"color":{"field":"g","type":"nominal"}}},
{"data":{"values":[{"label":"log-rank P=0.027"}]},"mark":{"type":"text"},"encoding":{"x":{"datum":3870},"y":{"datum":104},"text":{"field":"label"}}}
]},
{"width":277,"height":267,"title":{"text":"E"},"transform":[{"filter":"datum.p === 'E'"}],
"layer":[
{"mark":{"type":"line"},"encoding":{"x":{"field":"t","type":"quantitative","scale":{"domain":[0,6000],"nice":false},"axis":{"values":[0,2000,4000,6000],"format":"d"},"title":"Time (days)"},"y":{"field":"s","type":"quantitative","scale":{"domain":[0,100],"nice":false},"axis":{"values":[0,20,40,60,80,100]},"title":"Recurrence free survival (%)"},"color":{"field":"g","type":"nominal","scale":{"domain":["Low LINC00310","High LINC00310"],"range":["#3c3c94","#e03028"]}}}},
{"transform":[{"filter":"datum.c === 1"}],"mark":{"type":"point"},"encoding":{"x":{"field":"t","type":"quantitative"},"y":{"field":"s","type":"quantitative"},"color":{"field":"g","type":"nominal"}}},
{"data":{"values":[{"label":"log-rank P=0.034"}]},"mark":{"type":"text"},"encoding":{"x":{"datum":3910},"y":{"datum":101.2},"text":{"field":"label"}}}
]},
{"width":277,"height":267,"title":{"text":"F"},"transform":[{"filter":"datum.p === 'F'"}],
"layer":[
{"mark":{"type":"line"},"encoding":{"x":{"field":"t","type":"quantitative","scale":{"domain":[0,6000],"nice":false},"axis":{"values":[0,2000,4000,6000],"format":"d"},"title":"Time (days)"},"y":{"field":"s","type":"quantitative","scale":{"domain":[0,100],"nice":false},"axis":{"values":[0,20,40,60,80,100]},"title":"Recurrence free survival (%)"},"color":{"field":"g","type":"nominal","scale":{"domain":["Low HAS2-AS1","High HAS2-AS1"],"range":["#3c3c94","#e03028"]}}}},
{"transform":[{"filter":"datum.c === 1"}],"mark":{"type":"point"},"encoding":{"x":{"field":"t","type":"quantitative"},"y":{"field":"s","type":"quantitative"},"color":{"field":"g","type":"nominal"}}},
{"data":{"values":[{"label":"log-rank P=0.036"}]},"mark":{"type":"text"},"encoding":{"x":{"datum":3910},"y":{"datum":101.4},"text":{"field":"label"}}}
]}
]
}
